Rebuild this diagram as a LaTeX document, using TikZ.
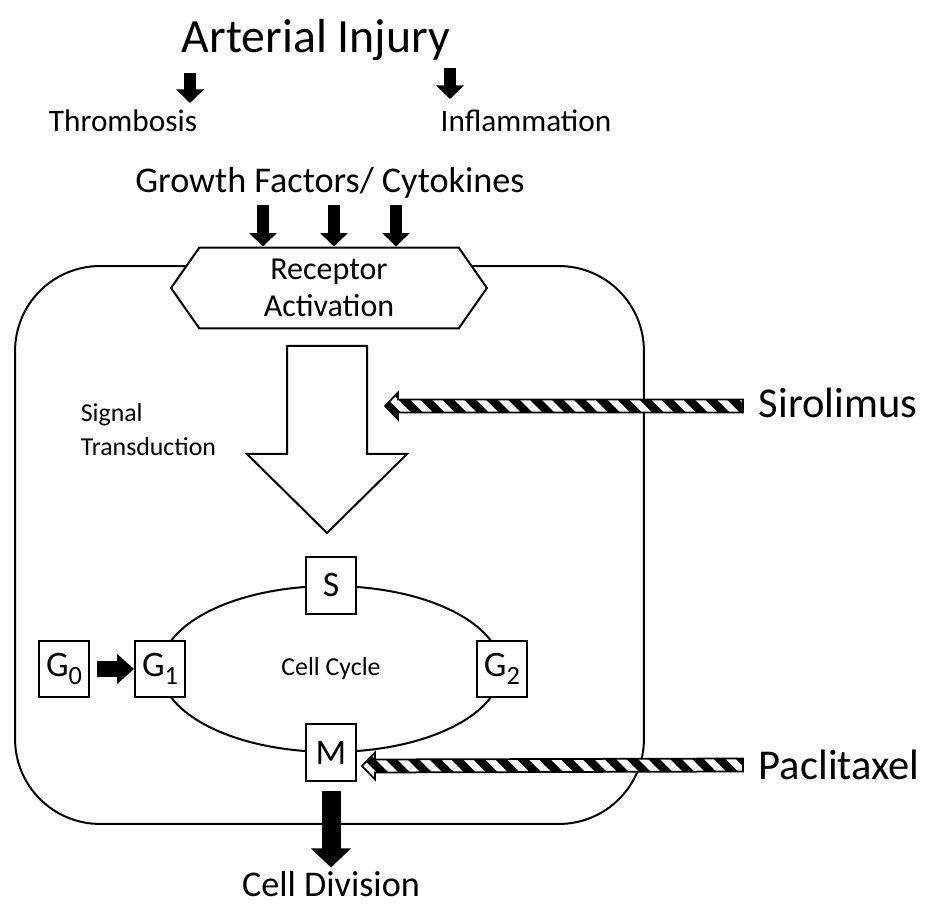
\documentclass[tikz,border=0pt]{standalone}
\usepackage{fontspec}
\setmainfont{Carlito}
\usepackage{tikz}
\usetikzlibrary{arrows.meta,calc,positioning}
\usetikzlibrary{shapes.geometric,shapes.symbols,patterns.meta}
\tikzset{
every picture/.style={
line width=0.04cm
}}
\newcommand{\sub}[1]{\raisebox{-0.45ex}{\fontsize{15}{15}\selectfont #1}}
\tikzset{
  fsmall/.style={font=\fontsize{14.7}{19.3}\selectfont},
  fmid/.style={font=\fontsize{17.8}{20.5}\selectfont},
  fbig/.style={font=\fontsize{20.6}{24}\selectfont},
  fhuge/.style={font=\fontsize{27.2}{32}\selectfont},
  fdrug/.style={font=\fontsize{24.2}{28}\selectfont},
  phase/.style={draw, fill=white, minimum width=1cm, minimum height=1.14cm,
    inner sep=0pt, font=\fontsize{20.4}{24}\selectfont},
  blk/.style={line width=0.24cm, -{Triangle[width=0.54cm,length=0.27cm]}},
  blkmid/.style={line width=0.32cm, -{Triangle[width=0.58cm,length=0.34cm]}},
  blkbig/.style={line width=0.38cm, -{Triangle[width=0.78cm,length=0.38cm]}},
  hollow/.style={draw, fill=white, line join=miter},
  hatch/.style={draw, line width=0.035cm, preaction={fill=black},
    pattern={Lines[angle=-45,distance=0.31cm,line width=0.14cm]},
    pattern color=white},
  receptor/.style={signal, signal to=west and east, signal pointer angle=110,
    draw, fill=white, minimum width=6.32cm, minimum height=1.62cm,
    inner sep=0pt, align=center, font=\fontsize{18.2}{21}\selectfont}
}
% hatched drug arrow, pointing left from tail #1 to tip #2
\newcommand{\hatcharrow}[2]{%
  \draw [hatch] ($(#1)+(0,-6.5)$) -- ($(#2)+(13,-6.5)$) -- ($(#2)+(13,-13.5)$)
    -- (#2) -- ($(#2)+(13,13.5)$) -- ($(#2)+(13,6.5)$) -- ($(#1)+(0,6.5)$) -- cycle;}

\begin{document}
\begin{tikzpicture}[x=0.02cm, y=-0.02cm]
  \useasboundingbox (0,0) rectangle (927,905);

  \node (ai) [fhuge] at (316,40) {Arterial Injury};
  \node (thr) [fmid] at (123,121) {Thrombosis};
  \node (inf) [fmid] at (526,121) {Inflammation};
  \node (gf) [fbig] at (330,183) {Growth Factors/ Cytokines};

  \coordinate (thr-arr) at (190,73);
  \coordinate (inf-arr) at (450,68);
  \draw [blk] (thr-arr) -- ++(0,30);
  \draw [blk] (inf-arr) -- ++(0,31);

  % the cell
  \node (cell) [draw, rounded corners=1.7cm, minimum width=12.58cm,
    minimum height=11.16cm] at (329.5,545) {};
  \node (rec) [receptor] at (329,288) {Receptor\\Activation};

  \foreach \x in {263,334,396}
    \draw [blk] (gf.south -| \x,0) -- (rec.north -| \x,0);

  % signal transduction
  \coordinate (sigtop) at (327,346);
  \draw [hollow] (sigtop) ++(-40,0) -- ++(80,0) -- ++(0,108) -- ++(40,0)
    -- ++(-80,79) -- ++(-80,-79) -- ++(40,0) -- cycle;
  \node (st) [fsmall, anchor=west, align=left] at (74,430) {Signal\\Transduction};

  % cell cycle
  \node (cyc) [draw, ellipse, minimum width=6.8cm, minimum height=3.32cm,
    inner sep=0pt, fsmall] at (331,669) {Cell Cycle};
  \node (s) [phase] at (cyc.north) {S};
  \node (g1) [phase] at (cyc.west) {G\sub{1}};
  \node (g2) [phase] at (cyc.east) {G\sub{2}};
  \node (m) [phase] at (cyc.south) {M};
  \node (g0) [phase, left=0.88cm of g1] {G\sub{0}};
  \draw [blkmid, shorten <=0.14cm] (g0.east) -- (g1.west);

  \node (cd) [fbig, font=\fontsize{20.6}{24}\selectfont, inner sep=0pt] at (331,884) {Cell Division};
  \draw [blkbig] ($(m.south)+(0,9)$) -- ++(0,76);

  % drugs
  \node (sir) [fdrug, anchor=west] at (752,403) {Sirolimus};
  \node (pac) [fdrug, anchor=west] at (752,765) {Paclitaxel};
  \coordinate (sir-tail) at (743,406);
  \coordinate (sir-tip) at (385,406);
  \coordinate (pac-tail) at (743,765);
  \coordinate (pac-tip) at ($(m.east)+(5,13)$);
  \hatcharrow{sir-tail}{sir-tip}
  \hatcharrow{pac-tail}{pac-tip}
\end{tikzpicture}
\end{document}
